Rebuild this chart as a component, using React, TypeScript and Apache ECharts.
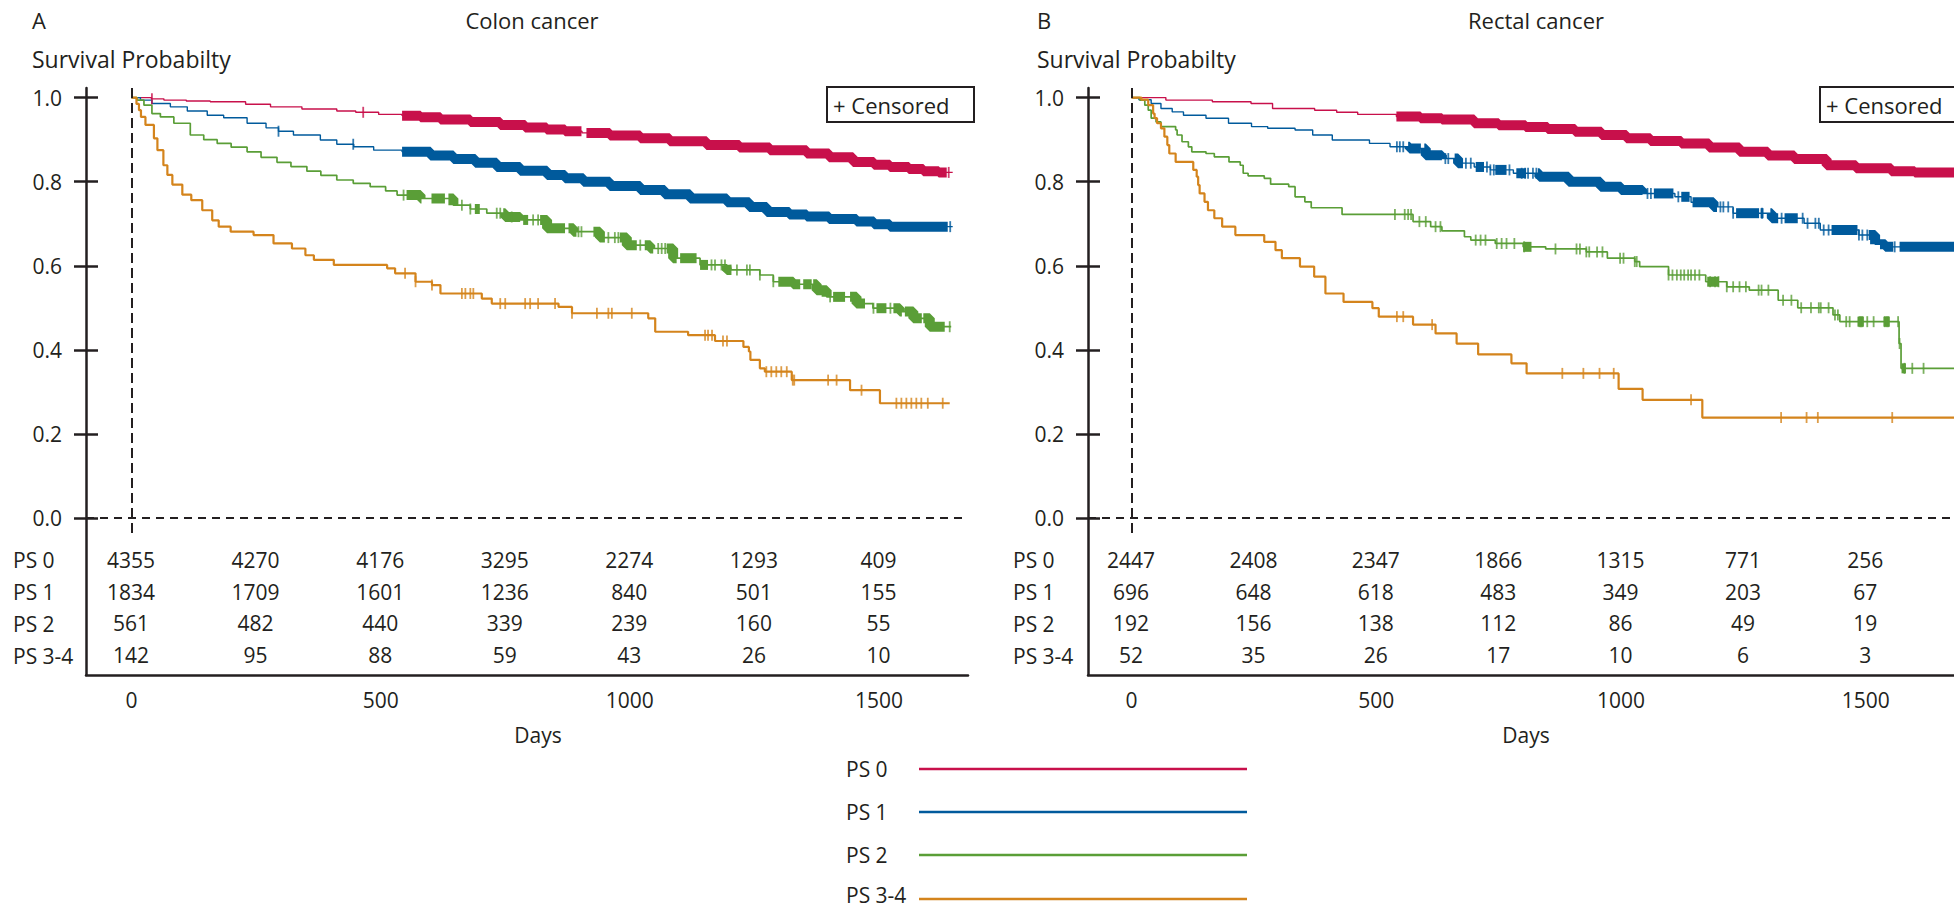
import React, { useEffect, useRef } from 'react';
import * as echarts from 'echarts';

const INK = '#231f20';
const FONT = '"Open Sans", "Noto Sans", sans-serif';

const groups = ['PS 0', 'PS 1', 'PS 2', 'PS 3-4'];
const groupColors = ['#c8104b', '#005a9c', '#5a9e37', '#d4841c'];
const lineWidths = [1.4, 1.4, 1.7, 2.2];

const panelLetters = ['A', 'B'];
const panelTitles = ['Colon cancer', 'Rectal cancer'];
const yAxisTitle = 'Survival Probabilty';
const xAxisTitle = 'Days';
const xTickValues = [0, 500, 1000, 1500];
const yTickValues = [0, 0.2, 0.4, 0.6, 0.8, 1.0];
const riskDays = [0, 250, 500, 750, 1000, 1250, 1500];

// Numbers at risk
const colonRiskPS0 = [4355, 4270, 4176, 3295, 2274, 1293, 409];
const colonRiskPS1 = [1834, 1709, 1601, 1236, 840, 501, 155];
const colonRiskPS2 = [561, 482, 440, 339, 239, 160, 55];
const colonRiskPS34 = [142, 95, 88, 59, 43, 26, 10];
const rectalRiskPS0 = [2447, 2408, 2347, 1866, 1315, 771, 256];
const rectalRiskPS1 = [696, 648, 618, 483, 349, 203, 67];
const rectalRiskPS2 = [192, 156, 138, 112, 86, 49, 19];
const rectalRiskPS34 = [52, 35, 26, 17, 10, 6, 3];

// Kaplan-Meier steps [day, survival after the step] - colon
const colonPS0Steps = [[0,1],[40,0.997],[65,0.994],[110,0.992],[158,0.99],[229,0.984],[279,0.978],[342,0.973],[412,0.968],[450,0.965],[496,0.96],[543,0.957],[580,0.953],[620,0.948],[680,0.942],[740,0.935],[790,0.929],[833,0.924],[870,0.92],[904,0.916],[960,0.91],[1021,0.903],[1080,0.896],[1154,0.887],[1220,0.881],[1281,0.875],[1355,0.867],[1400,0.858],[1448,0.847],[1490,0.84],[1522,0.835],[1560,0.83],[1589,0.825],[1620,0.822],[1648,0.822]];
const colonPS1Steps = [[0,1],[18,0.994],[41,0.986],[78,0.978],[112,0.968],[152,0.958],[185,0.952],[232,0.939],[270,0.928],[295,0.92],[325,0.911],[379,0.899],[412,0.889],[446,0.883],[486,0.875],[543,0.871],[600,0.862],[646,0.854],[690,0.845],[733,0.835],[780,0.826],[834,0.816],[870,0.808],[907,0.8],[960,0.79],[1021,0.78],[1070,0.77],[1121,0.76],[1195,0.751],[1240,0.74],[1275,0.728],[1320,0.722],[1355,0.717],[1400,0.711],[1455,0.705],[1490,0.699],[1522,0.693],[1648,0.693]];
const colonPS2Steps = [[0,1],[11,0.994],[25,0.982],[41,0.962],[58,0.954],[85,0.939],[118,0.911],[145,0.9],[172,0.891],[200,0.882],[232,0.871],[260,0.858],[292,0.846],[320,0.836],[352,0.825],[380,0.815],[412,0.804],[445,0.796],[479,0.788],[510,0.778],[533,0.768],[580,0.76],[646,0.744],[680,0.735],[713,0.725],[750,0.716],[780,0.709],[834,0.689],[887,0.681],[940,0.667],[994,0.649],[1041,0.641],[1087,0.618],[1141,0.602],[1195,0.59],[1261,0.578],[1288,0.562],[1328,0.556],[1375,0.542],[1395,0.526],[1455,0.51],[1488,0.499],[1542,0.491],[1569,0.475],[1602,0.455],[1645,0.455]];
const colonPS34Steps = [[0,1],[10,0.985],[15,0.97],[19,0.954],[28,0.935],[45,0.903],[52,0.875],[64,0.839],[72,0.816],[82,0.793],[102,0.769],[120,0.756],[142,0.732],[162,0.708],[175,0.693],[199,0.681],[245,0.673],[285,0.653],[322,0.641],[349,0.625],[366,0.614],[406,0.602],[513,0.594],[529,0.582],[570,0.562],[603,0.554],[620,0.534],[703,0.522],[723,0.51],[857,0.502],[884,0.487],[1037,0.475],[1051,0.443],[1117,0.435],[1171,0.421],[1228,0.407],[1239,0.396],[1242,0.376],[1261,0.356],[1271,0.348],[1325,0.328],[1442,0.304],[1502,0.273],[1642,0.273]];

// Kaplan-Meier steps - rectal
const rectalPS0Steps = [[0,1],[70,0.994],[165,0.99],[244,0.986],[288,0.974],[374,0.97],[419,0.965],[462,0.96],[541,0.955],[590,0.951],[634,0.948],[700,0.939],[750,0.934],[805,0.93],[850,0.925],[906,0.919],[960,0.911],[1011,0.903],[1060,0.897],[1123,0.891],[1180,0.881],[1242,0.871],[1300,0.862],[1354,0.854],[1420,0.839],[1480,0.832],[1552,0.825],[1600,0.822],[1690,0.822]];
const rectalPS1Steps = [[0,1],[15,0.995],[40,0.986],[60,0.974],[83,0.966],[106,0.958],[152,0.951],[198,0.939],[245,0.931],[278,0.927],[334,0.923],[370,0.911],[410,0.899],[486,0.891],[528,0.883],[568,0.879],[601,0.863],[634,0.855],[667,0.844],[700,0.835],[733,0.828],[780,0.82],[833,0.812],[893,0.8],[958,0.788],[1000,0.78],[1044,0.772],[1110,0.764],[1143,0.751],[1189,0.74],[1229,0.725],[1308,0.713],[1374,0.701],[1407,0.685],[1486,0.673],[1519,0.651],[1540,0.645],[1690,0.645]];
const rectalPS2Steps = [[0,1],[17,0.994],[27,0.982],[34,0.97],[40,0.951],[50,0.942],[60,0.931],[90,0.923],[93,0.911],[103,0.895],[116,0.883],[123,0.871],[152,0.867],[169,0.859],[199,0.847],[222,0.839],[228,0.82],[238,0.814],[271,0.808],[284,0.794],[321,0.788],[334,0.764],[354,0.752],[367,0.738],[430,0.722],[575,0.705],[611,0.693],[634,0.683],[680,0.669],[693,0.661],[743,0.653],[800,0.645],[846,0.64],[929,0.633],[972,0.618],[1028,0.61],[1038,0.598],[1097,0.578],[1173,0.562],[1216,0.55],[1262,0.542],[1321,0.518],[1361,0.5],[1433,0.483],[1447,0.467],[1568,0.415],[1572,0.356],[1690,0.356]];
const rectalPS34Steps = [[0,1],[20,0.995],[34,0.982],[44,0.962],[47,0.951],[52,0.939],[60,0.927],[67,0.907],[73,0.887],[77,0.867],[90,0.847],[126,0.828],[133,0.812],[136,0.792],[139,0.772],[149,0.752],[156,0.732],[169,0.713],[185,0.693],[212,0.673],[271,0.657],[294,0.637],[307,0.618],[344,0.598],[373,0.574],[396,0.534],[433,0.514],[492,0.499],[505,0.479],[575,0.46],[621,0.439],[664,0.415],[708,0.389],[776,0.368],[807,0.344],[995,0.307],[1044,0.281],[1166,0.239],[1690,0.239]];

// Censored times (days)
const colonPS0Censor = [41, 465, 1640];
const colonPS1Censor = [295, 445, 1643];
const colonPS2Censor = [546, 663, 680, 733, 740, 763, 806, 816, 897, 903, 957, 970, 977, 1021, 1057, 1064, 1071, 1164, 1171, 1184, 1191, 1215, 1235, 1241, 1261, 1288, 1402, 1489, 1523, 1642];
const colonPS34Censor = [549, 570, 603, 663, 670, 680, 686, 740, 750, 790, 800, 816, 850, 884, 934, 957, 964, 1004, 1151, 1157, 1165, 1187, 1195, 1274, 1284, 1294, 1304, 1315, 1327, 1330, 1398, 1415, 1465, 1535, 1545, 1555, 1565, 1575, 1585, 1598, 1628];
const rectalPS0Censor: number[] = [];
const rectalPS1Censor = [542, 548, 555, 641, 647, 683, 693, 726, 733, 740, 772, 797, 804, 810, 820, 827, 1054, 1061, 1117, 1203, 1209, 1219, 1229, 1288, 1328, 1371, 1381, 1397, 1404, 1414, 1424, 1486, 1493, 1503, 1559];
const rectalPS2Censor = [538, 558, 565, 571, 588, 601, 621, 631, 703, 713, 723, 746, 756, 766, 782, 802, 866, 909, 916, 929, 935, 951, 962, 998, 1005, 1028, 1032, 1097, 1105, 1114, 1122, 1129, 1137, 1143, 1151, 1160, 1182, 1192, 1199, 1216, 1229, 1242, 1255, 1281, 1287, 1301, 1331, 1348, 1368, 1388, 1404, 1408, 1424, 1437, 1443, 1460, 1467, 1487, 1490, 1493, 1503, 1516, 1539, 1543, 1546, 1566, 1569, 1579, 1595, 1618];
const rectalPS34Censor = [542, 555, 614, 880, 923, 956, 985, 1143, 1327, 1379, 1402, 1554];

// Day ranges where censoring marks merge into a solid band
const colonPS0Bands = [[543, 903], [913, 1636]];
const colonPS1Bands = [[543, 1638]];
const colonPS2Bands = [[552,582],[602,629],[636,646],[689,699],[746,780],[786,796],[820,870],[877,893],[927,950],[980,1014],[1030,1047],[1074,1094],[1101,1134],[1141,1157],[1194,1204],[1298,1342],[1348,1365],[1368,1395],[1408,1432],[1442,1472],[1495,1515],[1529,1546],[1552,1586],[1589,1632]];
const colonPS34Bands: number[][] = [];
const rectalPS0Bands = [[541, 1690]];
const rectalPS1Bands = [[565,591],[598,634],[660,677],[703,720],[743,766],[786,806],[830,1044],[1067,1107],[1123,1140],[1146,1196],[1235,1282],[1285,1291],[1305,1321],[1334,1361],[1430,1483],[1506,1519],[1529,1556],[1569,1690]];
const rectalPS2Bands = [[800,817],[1176,1200],[1483,1496],[1536,1549],[1573,1582]];
const rectalPS34Bands: number[][] = [];

const panels = [
  {
    steps: [colonPS0Steps, colonPS1Steps, colonPS2Steps, colonPS34Steps],
    censor: [colonPS0Censor, colonPS1Censor, colonPS2Censor, colonPS34Censor],
    bands: [colonPS0Bands, colonPS1Bands, colonPS2Bands, colonPS34Bands],
    risk: [colonRiskPS0, colonRiskPS1, colonRiskPS2, colonRiskPS34],
  },
  {
    steps: [rectalPS0Steps, rectalPS1Steps, rectalPS2Steps, rectalPS34Steps],
    censor: [rectalPS0Censor, rectalPS1Censor, rectalPS2Censor, rectalPS34Censor],
    bands: [rectalPS0Bands, rectalPS1Bands, rectalPS2Bands, rectalPS34Bands],
    risk: [rectalRiskPS0, rectalRiskPS1, rectalRiskPS2, rectalRiskPS34],
  },
];

function survAt(steps: number[][], d: number) {
  let p = steps[0][1];
  for (const [t, v] of steps) {
    if (t <= d) p = v;
    else break;
  }
  return p;
}
function segment(steps: number[][], s: number, e: number) {
  const pts = [[s, survAt(steps, s)]];
  for (const [t, v] of steps) if (t > s && t < e) pts.push([t, v]);
  pts.push([e, survAt(steps, e)]);
  return pts;
}

// layout
const GRIDS = [
  { left: 86, top: 88, width: 882, height: 587 },
  { left: 1088, top: 88, width: 894, height: 587 },
];
const X_RANGES = [[-91.3, 1678.7], [-89.06, 1680.2]];
const Y_MIN = -0.3734;
const Y_MAX = 1.0228;
const TABLE_ROW_Y = [-0.0999, -0.176, -0.252, -0.328];

function buildOption() {
  const xAxis: any[] = [];
  const yAxis: any[] = [];
  const series: any[] = [];
  const txt = { fontSize: 21, color: INK, fontFamily: FONT };

  panels.forEach((panel, pi) => {
    xAxis.push({
      gridIndex: pi,
      type: 'value',
      min: X_RANGES[pi][0],
      max: X_RANGES[pi][1],
      axisLine: { show: true, onZero: false, lineStyle: { color: INK, width: 2.5 } },
      axisTick: { show: false },
      splitLine: { show: false },
      axisLabel: { customValues: xTickValues, margin: 14, formatter: (v: number) => String(v), ...txt },
      name: xAxisTitle,
      nameLocation: 'middle',
      nameGap: 49,
      nameTextStyle: { ...txt, padding: [0, 0, 0, pi === 0 ? 22 : 10] },
    });
    yAxis.push({
      gridIndex: pi,
      type: 'value',
      min: Y_MIN,
      max: Y_MAX,
      position: 'left',
      axisLine: { show: true, onZero: false, lineStyle: { color: INK, width: 2.5 } },
      axisTick: { show: true, customValues: yTickValues, length: 12, lineStyle: { color: INK, width: 2.5 } },
      axisLabel: { customValues: yTickValues, formatter: (v: number) => v.toFixed(1), margin: 24, ...txt },
      splitLine: { show: false },
    });
    yAxis.push({
      gridIndex: pi,
      type: 'value',
      min: Y_MIN,
      max: Y_MAX,
      position: 'left',
      offset: 0,
      axisLine: { show: false, onZero: false },
      axisTick: { show: true, inside: true, customValues: yTickValues, length: 12, lineStyle: { color: INK, width: 2.5 } },
      axisLabel: { show: false },
      splitLine: { show: false },
    });
    const xi = pi;
    const yi = pi * 2;

    // dashed reference lines
    series.push({
      type: 'line',
      xAxisIndex: xi,
      yAxisIndex: yi,
      data: [[0, 1]],
      symbol: 'none',
      lineStyle: { opacity: 0 },
      silent: true,
      z: 1,
      markLine: {
        silent: true,
        symbol: ['none', 'none'],
        label: { show: false },
        data: [
          { yAxis: 0, lineStyle: { type: [8, 6], width: 2, color: INK } },
          [
            { coord: [0, Y_MAX], lineStyle: { type: [10, 5], width: 2, color: INK } },
            { coord: [0, -0.0357] },
          ],
        ],
      },
    });

    panel.steps.forEach((steps, g) => {
      const color = groupColors[g];
      series.push({
        type: 'line',
        name: groups[g],
        xAxisIndex: xi,
        yAxisIndex: yi,
        data: steps,
        step: 'end',
        symbol: 'none',
        silent: true,
        lineStyle: { color, width: lineWidths[g] },
        z: 3,
      });
      panel.bands[g].forEach(([s, e]) => {
        series.push({
          type: 'line',
          xAxisIndex: xi,
          yAxisIndex: yi,
          data: segment(steps, s, e),
          step: 'end',
          symbol: 'none',
          silent: true,
          lineStyle: { color, width: 10, cap: 'butt' },
          z: 3,
        });
      });
      series.push({
        type: 'scatter',
        xAxisIndex: xi,
        yAxisIndex: yi,
        data: panel.censor[g].map((d) => [d, survAt(steps, d)]),
        symbol: 'rect',
        symbolSize: [1.8, 11],
        itemStyle: { color },
        silent: true,
        z: 4,
      });
    });

    const tableData: any[] = [];
    panel.risk.forEach((row, r) => {
      row.forEach((n, c) => tableData.push([riskDays[c], TABLE_ROW_Y[r], n]));
    });
    series.push({
      type: 'scatter',
      xAxisIndex: xi,
      yAxisIndex: yi,
      data: tableData,
      symbolSize: 1,
      itemStyle: { color: 'rgba(0,0,0,0)' },
      silent: true,
      label: {
        show: true,
        position: [0, 0],
        align: 'center',
        verticalAlign: 'middle',
        formatter: (p: any) => String(p.value[2]),
        textBorderWidth: 0,
        opacity: 1,
        ...txt,
      },
      z: 5,
    });
  });

  const T = (text: string, x: number, y: number, size = 21, align = 'left') => ({
    type: 'text',
    x,
    y,
    silent: true,
    style: {
      text,
      fill: INK,
      fontSize: size,
      fontFamily: FONT,
      font: `${size}px ${FONT}`,
      align,
      textAlign: align,
      verticalAlign: 'middle',
      textVerticalAlign: 'middle',
    },
  });

  const graphic: any[] = [];
  // headers
  graphic.push(T(panelLetters[0], 32, 20, 22));
  graphic.push(T(panelTitles[0], 532, 20, 22, 'center'));
  graphic.push(T(yAxisTitle, 32, 59, 23));
  graphic.push(T(panelLetters[1], 1037, 20, 22));
  graphic.push(T(panelTitles[1], 1536, 20, 22, 'center'));
  graphic.push(T(yAxisTitle, 1037, 59, 23));
  // risk table row labels
  const rowPix = [560, 592, 624, 656];
  groups.forEach((g, i) => {
    graphic.push(T(g, 13, rowPix[i]));
    graphic.push(T(g, 1013, rowPix[i]));
  });
  // censored boxes
  graphic.push({ type: 'rect', shape: { x: 827, y: 87, width: 147, height: 35 }, style: { fill: '#fff', stroke: INK, lineWidth: 2 }, z: 10, silent: true });
  graphic.push({ ...T('+ Censored', 833, 105, 22), z: 11 });
  graphic.push({ type: 'rect', shape: { x: 1820, y: 87, width: 200, height: 35 }, style: { fill: '#fff', stroke: INK, lineWidth: 2 }, z: 10, silent: true });
  graphic.push({ ...T('+ Censored', 1826, 105, 22), z: 11 });
  // legend
  const legLineY = [769, 812, 855, 899];
  const legTextY = [769, 812, 855, 895];
  groups.forEach((g, i) => {
    graphic.push(T(g, 846, legTextY[i]));
    graphic.push({
      type: 'line',
      silent: true,
      shape: { x1: 919, y1: legLineY[i], x2: 1247, y2: legLineY[i] },
      style: { stroke: groupColors[i], lineWidth: 2.5 },
    });
  });

  return {
    animation: false,
    backgroundColor: '#ffffff',
    textStyle: { fontFamily: FONT },
    grid: GRIDS.map((g) => ({ ...g, containLabel: false })),
    xAxis,
    yAxis,
    series,
    graphic,
  };
}

export default function App() {
  const ref = useRef<HTMLDivElement>(null);
  useEffect(() => {
    if (!ref.current) return;
    const chart = echarts.init(ref.current, undefined, { renderer: 'svg' });
    chart.setOption(buildOption() as any);
    return () => chart.dispose();
  }, []);
  return (
    <div
      ref={ref}
      style={{ position: 'absolute', left: 0, top: 0, width: 1954, height: 910, background: '#fff', overflow: 'hidden' }}
    />
  );
}
